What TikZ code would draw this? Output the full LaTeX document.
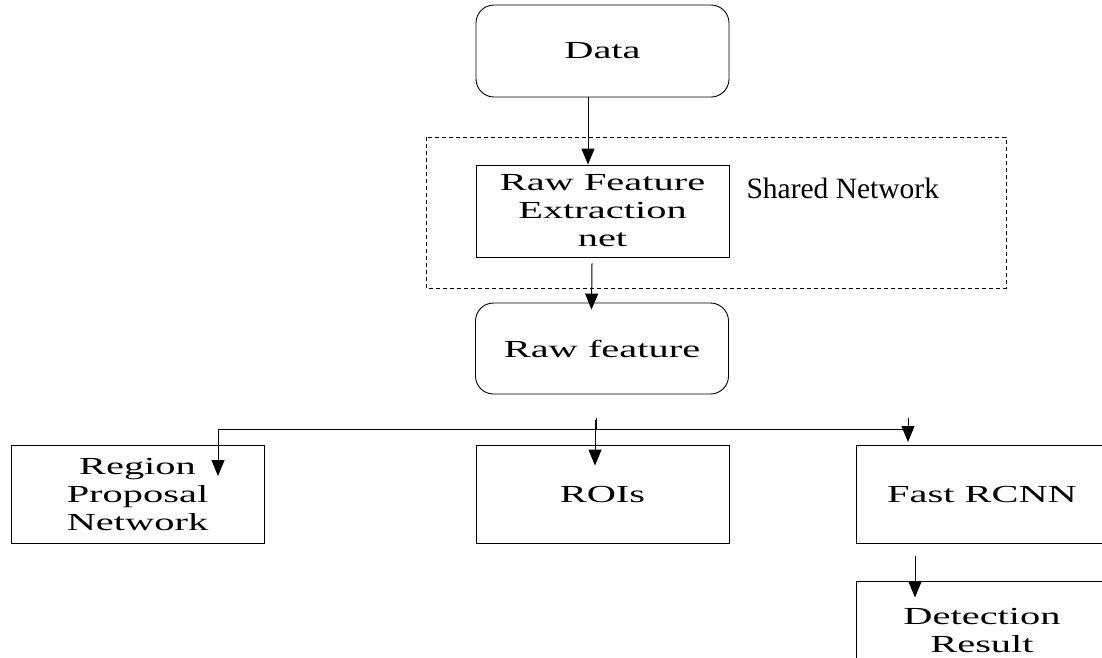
\documentclass[tikz,border=0pt]{standalone}
\usepackage{fontspec}
\setmainfont{Liberation Serif}
\newfontfamily\wideserif[FakeStretch=1.65]{Liberation Serif}
\usetikzlibrary{arrows.meta}

\begin{document}
\begin{tikzpicture}[x=1pt,y=-1pt,
    blk/.style={draw, line width=0.9pt, minimum width=253pt, minimum height=98pt,
        inner sep=0pt, align=center, font=\wideserif\fontsize{24.5}{28}\selectfont},
    rblk/.style={blk, minimum height=92pt, rounded corners=18pt},
    arr/.style={-{Triangle[length=16pt,width=13pt]}, line width=1pt}]
    \useasboundingbox (0,0) rectangle (1102,657);

    % shared part
    \draw[line width=0.8pt, dash pattern=on 4pt off 3pt] (426,137) rectangle (1006,288);
    \node[anchor=base west, font=\fontsize{29.5}{31}\selectfont] (shared) at (743,198) {Shared Network};

    \node[rblk] (data) at (602.5,51) {Data};
    \node[blk, minimum height=92pt] (rfe) at (602.5,211) {Raw Feature\\Extraction\\net};
    \node[rblk, minimum height=91pt] (rawf) at (602,348.5) {Raw feature};

    % bottom row
    \node[blk] (rpn) at (137.5,494) {Region\\Proposal\\Network};
    \node[blk] (rois) at (602.5,494) {ROIs};
    \node[blk, minimum width=252pt] (frcnn) at (982,494) {Fast RCNN};
    \node[blk, minimum width=252pt] (det) at (982,630) {Detection\\Result};

    \draw[arr] ([xshift=-14.5pt]data.south) -- ([xshift=-14.5pt]rfe.north);
    \draw[arr] ([xshift=-10.5pt,yshift=-6pt]rfe.south) -- ([xshift=-10.5pt,yshift=-7pt]rawf.north);

    % split
    \coordinate (busL) at (218,429);
    \coordinate (busR) at (908,429);
    \coordinate (busT) at (596,418);
    \coordinate (busM) at (596,429);
    \draw[line width=1pt] (busT) -- (busM);
    \draw[line width=1pt] (busL) -- (busR);
    \draw[arr] (busL) -- ++(0,47);
    \draw[arr] ([xshift=-7.5pt,yshift=25pt]rois.north) -- ++(0,46);
    \draw[arr] ([yshift=11pt]busR) -- ++(0,24);
    \draw[arr] ([xshift=-67pt,yshift=-13pt]frcnn.south) -- ++(0,41);
\end{tikzpicture}
\end{document}
